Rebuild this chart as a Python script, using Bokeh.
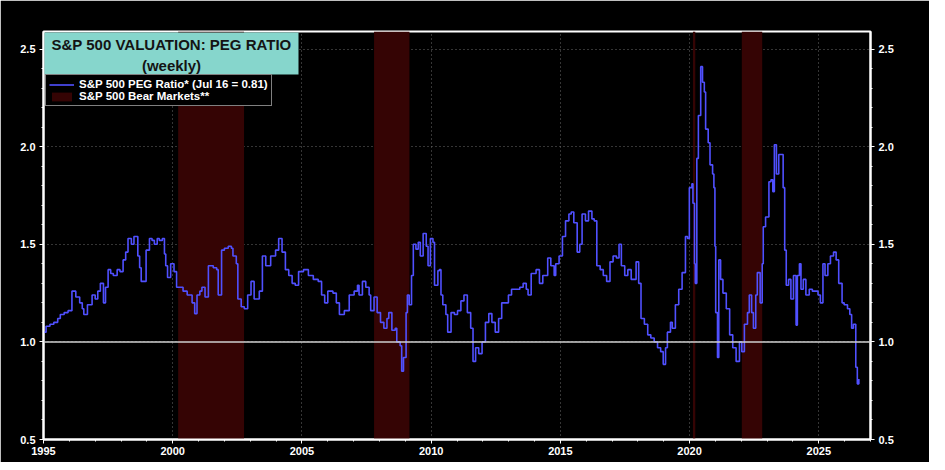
from bokeh.plotting import figure
from bokeh.models import (Range1d, LinearAxis, SingleIntervalTicker, Span, PrintfTickFormatter,
                          BoxAnnotation, Label, Legend, LegendItem, ColumnDataSource)
from bokeh.embed import file_html
from bokeh.resources import INLINE

# ---------------- data ----------------
years = [
    1995.00, 1995.04, 1995.10, 1995.25, 1995.40, 1995.55, 1995.65, 1995.80, 1995.95,
    1996.05, 1996.10, 1996.25, 1996.40, 1996.50, 1996.56, 1996.70, 1996.88,
    1997.00, 1997.10, 1997.20, 1997.32, 1997.40, 1997.50, 1997.60, 1997.70, 1997.85, 1997.96,
    1998.08, 1998.18, 1998.27, 1998.40, 1998.50, 1998.58, 1998.65, 1998.72, 1998.78, 1998.90, 1998.97,
    1999.10, 1999.20, 1999.29, 1999.40, 1999.48, 1999.60, 1999.68, 1999.73, 1999.80, 1999.92,
    2000.05, 2000.15, 2000.30, 2000.40, 2000.56, 2000.68, 2000.75, 2000.85, 2000.94,
    2001.05, 2001.13, 2001.25, 2001.38, 2001.57, 2001.70, 2001.76, 2001.89,
    2002.00, 2002.15, 2002.27, 2002.33, 2002.46, 2002.52, 2002.65, 2002.77, 2002.90,
    2003.03, 2003.15, 2003.35, 2003.47, 2003.60, 2003.79, 2003.98,
    2004.10, 2004.23, 2004.36, 2004.49, 2004.62, 2004.74, 2004.87,
    2005.06, 2005.25, 2005.44, 2005.63, 2005.76, 2005.88,
    2006.00, 2006.20, 2006.33, 2006.45, 2006.64, 2006.83,
    2007.02, 2007.15, 2007.21, 2007.34, 2007.47, 2007.60, 2007.66, 2007.79, 2007.91,
    2008.04, 2008.17, 2008.29, 2008.36, 2008.48, 2008.61, 2008.67, 2008.80, 2008.86, 2008.93,
    2009.03, 2009.08, 2009.15, 2009.24, 2009.31, 2009.41, 2009.50, 2009.58, 2009.69, 2009.81, 2009.88, 2009.97,
    2010.07, 2010.13, 2010.26, 2010.32, 2010.38, 2010.45, 2010.57, 2010.64, 2010.77, 2010.90,
    2011.02, 2011.15, 2011.27, 2011.40, 2011.53, 2011.62, 2011.72, 2011.84, 2011.97,
    2012.10, 2012.23, 2012.35, 2012.48, 2012.61, 2012.73, 2012.86, 2012.99,
    2013.11, 2013.24, 2013.43, 2013.56, 2013.68, 2013.75, 2013.87,
    2014.06, 2014.19, 2014.32, 2014.51, 2014.63, 2014.76, 2014.82, 2014.95,
    2015.08, 2015.20, 2015.33, 2015.42, 2015.52, 2015.65, 2015.75, 2015.84, 2015.97,
    2016.09, 2016.22, 2016.31, 2016.41, 2016.54, 2016.66, 2016.79, 2016.92,
    2017.04, 2017.17, 2017.27, 2017.36, 2017.49, 2017.61, 2017.74, 2017.86, 2017.93,
    2018.03, 2018.12, 2018.25, 2018.38, 2018.50, 2018.63, 2018.76, 2018.88, 2018.98,
    2019.07, 2019.14, 2019.26, 2019.33, 2019.45, 2019.58, 2019.71, 2019.84, 2019.92, 2019.99,
    2020.09, 2020.13, 2020.19, 2020.22, 2020.28, 2020.34, 2020.43, 2020.50, 2020.57, 2020.62,
    2020.72, 2020.79, 2020.89, 2020.94, 2020.98,
    2021.01, 2021.08, 2021.13, 2021.20, 2021.29, 2021.42, 2021.55, 2021.67, 2021.80, 2021.93,
    2022.02, 2022.12, 2022.24, 2022.31, 2022.40, 2022.47, 2022.56, 2022.62, 2022.73, 2022.81,
    2022.85, 2022.94,
    2023.07, 2023.15, 2023.22, 2023.28, 2023.36, 2023.45, 2023.54, 2023.62, 2023.68, 2023.74,
    2023.83, 2023.92,
    2024.02, 2024.12, 2024.17, 2024.25, 2024.31, 2024.40, 2024.50, 2024.63, 2024.75, 2024.88, 2024.97,
    2025.06, 2025.16, 2025.24, 2025.35, 2025.45, 2025.57, 2025.67, 2025.77, 2025.90, 2025.98,
    2026.11, 2026.20, 2026.27, 2026.34, 2026.43, 2026.49, 2026.55,
]
peg = [
    1.05, 1.05, 1.08, 1.09, 1.10, 1.12, 1.14, 1.15, 1.16,
    1.16, 1.26, 1.23, 1.20, 1.17, 1.14, 1.19, 1.24,
    1.22, 1.26, 1.30, 1.20, 1.28, 1.37, 1.35, 1.34, 1.37, 1.36,
    1.42, 1.46, 1.53, 1.50, 1.54, 1.54, 1.44, 1.38, 1.31, 1.31, 1.47,
    1.53, 1.52, 1.50, 1.53, 1.52, 1.53, 1.45, 1.39, 1.33, 1.40,
    1.36, 1.28, 1.28, 1.26, 1.24, 1.24, 1.20, 1.145, 1.24,
    1.26, 1.28, 1.23, 1.39, 1.38, 1.37, 1.24, 1.47,
    1.48, 1.49, 1.48, 1.44, 1.40, 1.22, 1.18, 1.17, 1.24,
    1.31, 1.22, 1.26, 1.44, 1.39, 1.44, 1.47,
    1.53, 1.46, 1.37, 1.34, 1.30, 1.29, 1.36,
    1.37, 1.34, 1.32, 1.31, 1.24, 1.20,
    1.26, 1.25, 1.20, 1.14, 1.16, 1.24,
    1.26, 1.29, 1.24, 1.31, 1.28, 1.24, 1.16, 1.23, 1.15,
    1.10, 1.07, 1.12, 1.15, 1.06, 1.07, 1.00, 0.98, 0.85, 0.92,
    1.15, 1.24, 1.19, 1.34, 1.50, 1.475, 1.51, 1.44, 1.555, 1.49, 1.39, 1.53,
    1.51, 1.29, 1.365, 1.37, 1.24, 1.19, 1.14, 1.05, 1.15, 1.14,
    1.16, 1.21, 1.24, 1.15, 1.07, 0.90, 0.97, 0.94, 1.00,
    1.10, 1.145, 1.10, 1.05, 1.12, 1.20, 1.20, 1.24,
    1.27, 1.27, 1.28, 1.30, 1.27, 1.24, 1.35,
    1.37, 1.30, 1.34, 1.43, 1.39, 1.34, 1.40, 1.44,
    1.54, 1.62, 1.655, 1.665, 1.61, 1.46, 1.50, 1.655, 1.62,
    1.67, 1.63, 1.62, 1.39, 1.37, 1.34, 1.31, 1.41,
    1.44, 1.43, 1.50, 1.39, 1.34, 1.37, 1.32, 1.32, 1.41,
    1.30, 1.12, 1.09, 1.036, 1.02, 1.00, 0.97, 0.95, 0.885,
    0.97, 1.05, 1.10, 1.07, 1.19, 1.27, 1.355, 1.54, 1.53, 1.79,
    1.81, 1.71, 1.40, 1.30, 1.94, 2.16, 2.41, 2.33, 2.28, 2.09,
    2.02, 1.907, 1.86, 1.79, 1.49,
    1.15, 0.92, 1.42, 1.32, 1.25, 1.17, 1.036, 0.97, 0.90, 1.00,
    0.95, 1.09, 1.15, 1.24, 1.15, 1.07, 1.24, 1.355, 1.20, 1.40,
    1.59, 1.64,
    1.82, 1.83, 1.77, 2.01, 1.86, 1.96, 1.96, 1.79, 1.47, 1.29,
    1.32, 1.22,
    1.34, 1.086, 1.34, 1.40, 1.27, 1.32, 1.24, 1.27, 1.26, 1.26, 1.24,
    1.20, 1.40, 1.34, 1.40, 1.44, 1.46, 1.42, 1.30, 1.20, 1.19,
    1.17, 1.14, 1.07, 1.09, 0.87, 0.785, 0.81,
]
bear_start = [2000.21, 2007.79, 2020.13, 2022.02]
bear_end = [2002.76, 2009.16, 2020.22, 2022.81]

title_line1 = "S&P 500 VALUATION: PEG RATIO"
title_line2 = "(weekly)"
legend_peg = "S&P 500 PEG Ratio* (Jul 16 = 0.81)"
legend_bear = "S&P 500 Bear Markets**"

X_MIN, X_MAX = 1995, 2027
Y_MIN, Y_MAX = 0.5, 2.59
FONT = "Liberation Sans"

# ---------------- figure ----------------
p = figure(width=929, height=462,
           x_range=Range1d(X_MIN, X_MAX), y_range=Range1d(Y_MIN, Y_MAX),
           output_backend="svg", toolbar_location=None,
           background_fill_color="black", border_fill_color="black",
           min_border_left=43, min_border_right=59,
           min_border_top=31, min_border_bottom=23)
p.outline_line_color = "white"
p.outline_line_width = 2

p.xaxis.ticker = SingleIntervalTicker(interval=5, num_minor_ticks=5)
p.yaxis.ticker = SingleIntervalTicker(interval=0.5, num_minor_ticks=5)
p.yaxis.formatter = PrintfTickFormatter(format="%.1f")

right_axis = LinearAxis(ticker=SingleIntervalTicker(interval=0.5, num_minor_ticks=5),
                        formatter=PrintfTickFormatter(format="%.1f"))
p.add_layout(right_axis, "right")

for ax in [p.xaxis[0], p.yaxis[0], right_axis]:
    ax.axis_line_color = "white"
    ax.axis_line_width = 2
    ax.major_tick_line_color = "white"
    ax.minor_tick_line_color = "white"
    ax.major_tick_in = 0
    ax.major_tick_out = 4
    ax.minor_tick_in = 0
    ax.minor_tick_out = 2
    ax.major_label_text_color = "white"
    ax.major_label_text_font = FONT
    ax.major_label_text_font_style = "bold"
    ax.major_label_text_font_size = "11px"
    ax.major_label_standoff = 4

p.xaxis[0].major_label_standoff = 3

for g in [p.xgrid[0], p.ygrid[0]]:
    g.grid_line_color = "#6a6a6a"
    g.grid_line_dash = "1 3"
    g.grid_line_width = 1

# bear markets
bears = p.quad(left=bear_start, right=bear_end,
               bottom=[Y_MIN] * len(bear_start), top=[Y_MAX] * len(bear_start),
               fill_color="#350404", line_color=None)

# 1.0 reference line
p.add_layout(Span(location=1.0, dimension="width", line_color="#cfcfcf", line_width=1.5))

src = ColumnDataSource(dict(year=years, peg=peg))
peg_line = p.step(x="year", y="peg", source=src, mode="after",
                  line_color="#5050ff", line_width=1.6)

# title box
p.add_layout(BoxAnnotation(left=1, right=255, top=407, bottom=365,
                           left_units="screen", right_units="screen",
                           top_units="screen", bottom_units="screen",
                           fill_color="#86d6cc", fill_alpha=1.0, line_color=None))
p.add_layout(Label(x=128, y=395, x_units="screen", y_units="screen", text=title_line1,
                   text_align="center", text_baseline="middle", text_color="#141414",
                   text_font=FONT, text_font_style="bold", text_font_size="15px"))
p.add_layout(Label(x=128, y=374, x_units="screen", y_units="screen", text=title_line2,
                   text_align="center", text_baseline="middle", text_color="#141414",
                   text_font=FONT, text_font_style="bold", text_font_size="15px"))

legend = Legend(items=[LegendItem(label=legend_peg, renderers=[peg_line]),
                       LegendItem(label=legend_bear, renderers=[bears])],
                location=(2, 333))
legend.background_fill_color = "black"
legend.background_fill_alpha = 1.0
legend.border_line_color = "white"
legend.border_line_width = 1.5
legend.label_text_color = "white"
legend.label_text_font = FONT
legend.label_text_font_style = "bold"
legend.label_text_font_size = "11.5px"
legend.glyph_width = 25
legend.glyph_height = 11
legend.label_height = 11
legend.label_standoff = 5
legend.spacing = 0
legend.padding = 3
legend.margin = 0
p.add_layout(legend)

open("out.html", "w").write(file_html(p, INLINE))
